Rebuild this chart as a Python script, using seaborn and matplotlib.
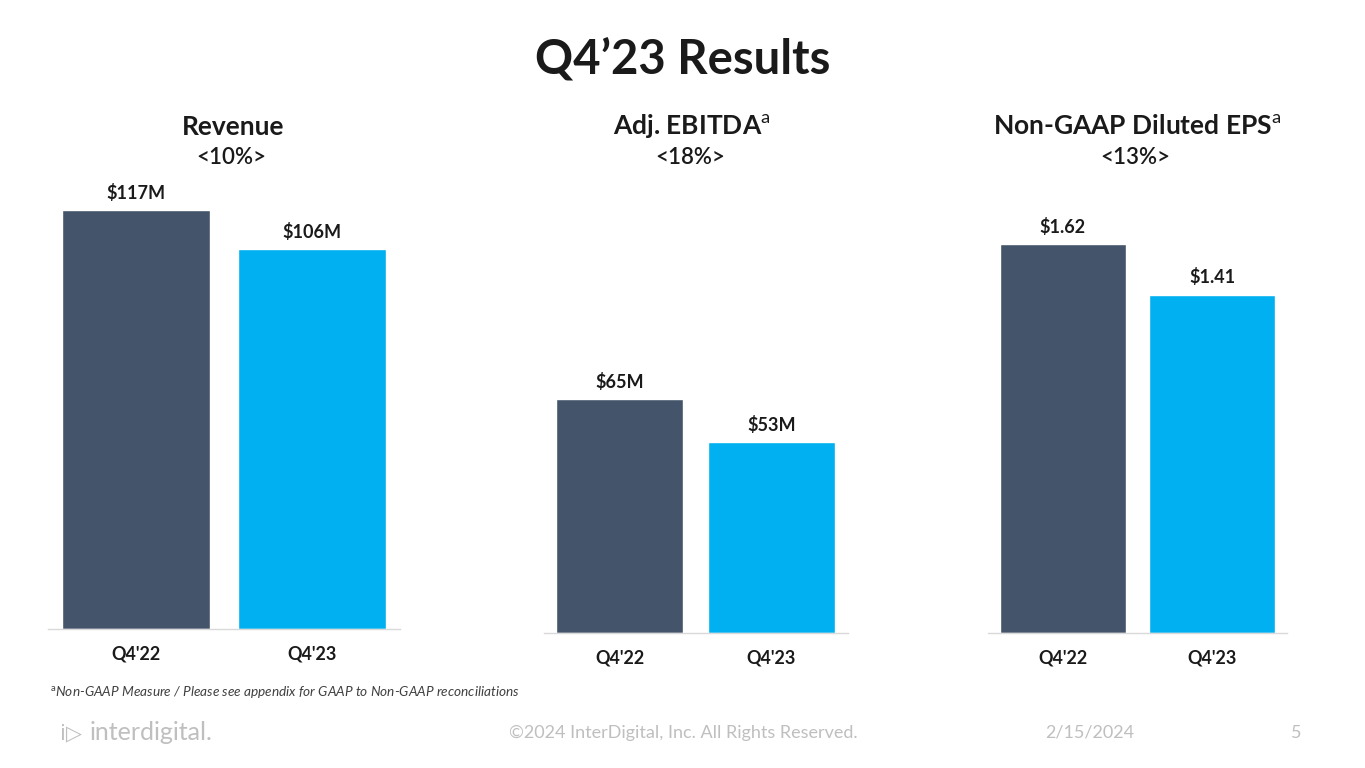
import numpy as np
import pandas as pd
import matplotlib
matplotlib.use("Agg")
import matplotlib.pyplot as plt
import seaborn as sns

# chart data
periods = ["Q4'22", "Q4'23"]
revenue = [117, 106]
ebitda = [65, 53]
eps = [1.62, 1.41]
revenue_labels = ["$117M", "$106M"]
ebitda_labels = ["$65M", "$53M"]
eps_labels = ["$1.62", "$1.41"]
panel_titles = ["Revenue", "Adj. EBITDA$^{\\mathrm{a}}$", "Non-GAAP Diluted EPS$^{\\mathrm{a}}$"]
panel_changes = ["<10%>", "<18%>", "<13%>"]

DARK = "#44546A"
CYAN = "#00B0F0"
W, H = 1365, 768

sns.set_theme(style="white")
plt.rcParams['font.family'] = ['Lato', 'DejaVu Sans']
plt.rcParams['mathtext.fontset'] = 'custom'
plt.rcParams['mathtext.rm'] = 'Lato'

fig = plt.figure(figsize=(W / 100, H / 100), dpi=100)
fig.patch.set_facecolor("white")


def px_axes(x0, x1, ybase, ytop):
    # axes placed in pixel coordinates of the slide
    return fig.add_axes([x0 / W, 1 - ybase / H, (x1 - x0) / W, (ybase - ytop) / H])


def ftext(x, y, s, **kw):
    fig.text(x / W, 1 - y / H, s, **kw)


panels = [
    (revenue, revenue_labels, (48, 400, 629, 180, 125.4), 233),
    (ebitda, ebitda_labels, (543.5, 847.5, 633, 180, 125.8), 692),
    (eps, eps_labels, (988, 1287, 633, 180, 1.8875), 1137),
]

for i, (vals, labs, (x0, x1, yb, yt, ymax), cx) in enumerate(panels):
    ax = px_axes(x0, x1, yb, yt)
    df = pd.DataFrame({"period": periods, "value": vals})
    sns.barplot(data=df, x="period", y="value", hue="period",
                palette=[DARK, CYAN], width=0.84, legend=False, ax=ax,
                saturation=1)
    ax.set_xlim(-0.5, 1.5)
    ax.set_ylim(0, ymax)
    for cont, lab in zip(ax.containers, labs):
        ax.bar_label(cont, labels=[lab], padding=6, fontsize=13,
                     fontweight="bold", color="#1a1a1a")
    for s in ["top", "right", "left"]:
        ax.spines[s].set_visible(False)
    ax.spines["bottom"].set_color("#D9D9D9")
    ax.spines["bottom"].set_linewidth(1)
    ax.set_yticks([])
    ax.set_xlabel("")
    ax.set_ylabel("")
    ax.tick_params(axis="x", length=0, pad=12)
    for t in ax.get_xticklabels():
        t.set_fontsize(13)
        t.set_fontweight("bold")
        t.set_color("#1a1a1a")
    ax.set_facecolor("white")

    ftext(cx, 127, panel_titles[i], ha="center", va="center",
          fontsize=19, fontweight="bold", color="#1a1a1a")
    ftext(cx - 2, 158, panel_changes[i], ha="center", va="center",
          fontsize=16, fontweight="semibold", color="#1a1a1a")

# slide title
ftext(683, 60, "Q4\u201923 Results", ha="center", va="center",
      fontsize=34, fontweight="bold", color="#1a1a1a")

# footnote
ftext(50, 693, "$^{\\mathrm{a}}$Non-GAAP Measure / Please see appendix for GAAP to Non-GAAP reconciliations",
      ha="left", va="center", fontsize=9.8, style="italic", color="#404040")

# footer
ftext(60, 733, "i\u25B7", ha="left", va="center", fontsize=15,
      color="#BFBFBF", family=["DejaVu Sans"])
ftext(90, 733, "interdigital.", ha="left", va="center", fontsize=18,
      color="#BFBFBF")
ftext(683, 733, "\u00a92024 InterDigital, Inc. All Rights Reserved.",
      ha="center", va="center", fontsize=13, color="#BFBFBF")
ftext(1090, 733, "2/15/2024", ha="center", va="center", fontsize=13,
      color="#BFBFBF")
ftext(1296, 733, "5", ha="center", va="center", fontsize=13,
      color="#BFBFBF")

fig.savefig("out.png", dpi=100)
